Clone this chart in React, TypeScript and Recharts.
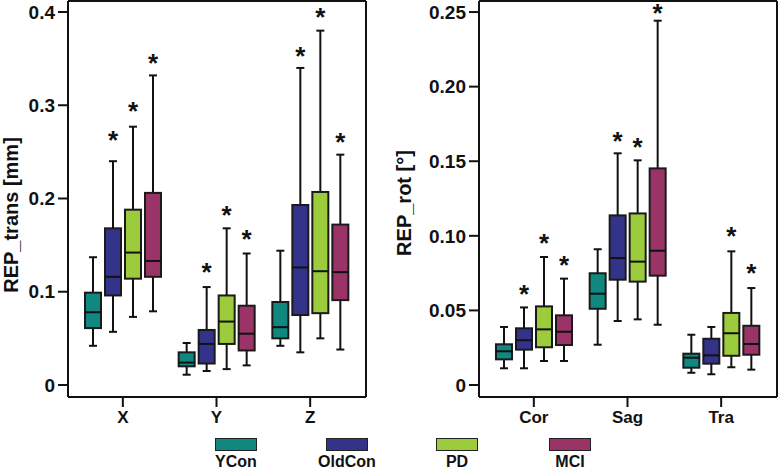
import { ComposedChart, Bar, XAxis, YAxis } from 'recharts';

const GROUPS = ['YCon', 'OldCon', 'PD', 'MCI'];
const COLORS = ['#10877F', '#33338A', '#9CCB3B', '#9B3466'];

// each entry: [min, q1, median, q3, max]
const TRANS_CATS = ['X', 'Y', 'Z'];
const TRANS_YCON = [[0.042, 0.061, 0.078, 0.099, 0.137], [0.011, 0.020, 0.024, 0.035, 0.045], [0.042, 0.050, 0.062, 0.089, 0.144]];
const TRANS_OLDCON = [[0.057, 0.096, 0.116, 0.168, 0.240], [0.015, 0.023, 0.044, 0.059, 0.105], [0.035, 0.075, 0.126, 0.193, 0.340]];
const TRANS_PD = [[0.073, 0.114, 0.142, 0.188, 0.277], [0.017, 0.044, 0.068, 0.096, 0.168], [0.050, 0.077, 0.122, 0.207, 0.380]];
const TRANS_MCI = [[0.079, 0.116, 0.133, 0.206, 0.332], [0.021, 0.037, 0.055, 0.085, 0.141], [0.038, 0.091, 0.121, 0.172, 0.247]];
// asterisk heights per category (YCon, OldCon, PD, MCI), null = no asterisk
const TRANS_STARS = [[null, 0.266, 0.297, 0.348], [null, 0.124, 0.185, 0.159], [null, 0.356, 0.397, 0.264]];
const TRANS_TICKS = [0, 0.1, 0.2, 0.3, 0.4];

const ROT_CATS = ['Cor', 'Sag', 'Tra'];
const ROT_YCON = [[0.0112, 0.0172, 0.0226, 0.0273, 0.0389], [0.027, 0.0511, 0.0612, 0.0749, 0.091], [0.0082, 0.0116, 0.0183, 0.021, 0.0337]];
const ROT_OLDCON = [[0.0112, 0.0237, 0.030, 0.038, 0.052], [0.0429, 0.0706, 0.0851, 0.1137, 0.1553], [0.0072, 0.0143, 0.0199, 0.031, 0.0389]];
const ROT_PD = [[0.0161, 0.0253, 0.0373, 0.0527, 0.0858], [0.044, 0.0693, 0.0827, 0.115, 0.1506], [0.0119, 0.0196, 0.0347, 0.0483, 0.0896]];
const ROT_MCI = [[0.0161, 0.0268, 0.0357, 0.0467, 0.0713], [0.0404, 0.0733, 0.090, 0.1452, 0.2442], [0.0103, 0.0203, 0.0275, 0.0397, 0.065]];
const ROT_STARS = [[null, 0.063, 0.0972, 0.082], [null, 0.1653, 0.1615, 0.2515], [null, null, 0.1015, 0.0771]];
const ROT_TICKS = [0, 0.05, 0.1, 0.15, 0.2, 0.25];

const FONT = '"Liberation Sans", Arial, sans-serif';
const INK = '#111';

function buildRows(cats: string[], sets: number[][][], stars: (number | null)[][]) {
  return cats.map((cat, i) => {
    const row: any = { cat };
    GROUPS.forEach((g, j) => {
      const s = sets[j][i];
      row[g] = [s[0], s[4]];
      row[g + '_box'] = s;
      row[g + '_star'] = stars[i][j];
    });
    return row;
  });
}

const transRows = buildRows(TRANS_CATS, [TRANS_YCON, TRANS_OLDCON, TRANS_PD, TRANS_MCI], TRANS_STARS);
const rotRows = buildRows(ROT_CATS, [ROT_YCON, ROT_OLDCON, ROT_PD, ROT_MCI], ROT_STARS);

// box drawn inside the whisker-range bar; pixel scale taken from the bar itself
function BoxShape(props: any) {
  const { x, y, width, height, payload, group, color } = props;
  const s = payload[group + '_box'];
  const star = payload[group + '_star'];
  const top = Math.min(y, y + height);
  const bottom = Math.max(y, y + height);
  const k = (bottom - top) / (s[4] - s[0]);
  const py = (v: number) => bottom - (v - s[0]) * k;
  const cx = x + width / 2;
  return (
    <g>
      <line x1={cx} x2={cx} y1={py(s[4])} y2={py(s[3])} stroke={INK} strokeWidth={2} />
      <line x1={cx} x2={cx} y1={py(s[1])} y2={py(s[0])} stroke={INK} strokeWidth={2} />
      <line x1={cx - 4} x2={cx + 4} y1={py(s[4])} y2={py(s[4])} stroke={INK} strokeWidth={2} />
      <line x1={cx - 4} x2={cx + 4} y1={py(s[0])} y2={py(s[0])} stroke={INK} strokeWidth={2} />
      <rect x={x + 1} y={py(s[3])} width={width - 2} height={py(s[1]) - py(s[3])} fill={color} stroke="#1a1a1a" strokeWidth={2} />
      <line x1={x + 1} x2={x + width - 1} y1={py(s[2])} y2={py(s[2])} stroke={INK} strokeWidth={2} />
      {star != null && (
        <text x={cx} y={py(star) + 11.7} textAnchor="middle" fontSize={26} fontWeight="bold" fontFamily={FONT} fill={INK}>*</text>
      )}
    </g>
  );
}

const tickStyle = { fontSize: 19, fontWeight: 'bold', fill: INK, fontFamily: FONT };
const axisLine = { stroke: INK, strokeWidth: 2 };

function Panel({ rows, ticks, domain, fmt, label, width, yWidth, labelX, labelShift }: any) {
  return (
    <ComposedChart
      width={width}
      height={470}
      data={rows}
      margin={{ top: 0, right: 1, bottom: 0, left: 0 }}
      barSize={18}
      barGap={2}
    >
      <XAxis
        dataKey="cat"
        height={73}
        padding={{ left: 8, right: 9 }}
        tickSize={10}
        tickMargin={4}
        tickLine={axisLine}
        axisLine={axisLine}
        tick={{ ...tickStyle, fontSize: 17 }}
      />
      <XAxis xAxisId="top" dataKey="cat" orientation="top" height={1} tick={false} tickLine={false} axisLine={axisLine} />
      <YAxis
        type="number"
        width={yWidth}
        domain={domain}
        allowDataOverflow
        ticks={ticks}
        interval={0}
        tickFormatter={fmt}
        tickSize={10}
        tickMargin={3}
        tickLine={axisLine}
        axisLine={axisLine}
        tick={tickStyle}
        label={{
          value: label,
          content: (p: any) => {
            const vb = p.viewBox;
            const lx = vb.x + labelX;
            const ly = vb.y + vb.height / 2 + labelShift;
            return (
              <text
                x={lx}
                y={ly}
                transform={`rotate(-90, ${lx}, ${ly})`}
                textAnchor="middle"
                dominantBaseline="central"
                fontSize={20}
                fontWeight="bold"
                fontFamily={FONT}
                fill={INK}
              >
                {label}
              </text>
            );
          },
        }}
      />
      <YAxis yAxisId="right" orientation="right" width={1} domain={domain} allowDataOverflow tick={false} tickLine={false} axisLine={axisLine} />
      {GROUPS.map((g, j) => (
        <Bar
          key={g}
          dataKey={g}
          isAnimationActive={false}
          shape={(p: any) => <BoxShape {...p} group={g} color={COLORS[j]} />}
        />
      ))}
    </ComposedChart>
  );
}

const LEGEND_CENTERS = [236, 347, 457, 570];

export default function App() {
  return (
    <div style={{ position: 'absolute', left: 0, top: 0, width: 779, height: 470, background: '#fff', fontFamily: FONT }}>
      <div style={{ position: 'absolute', left: 0, top: 0 }}>
        <Panel
          rows={transRows}
          ticks={TRANS_TICKS}
          domain={[-0.0129, 0.4118]}
          fmt={(v: number) => (v === 0 ? '0' : v.toFixed(1))}
          label="REP_trans [mm]"
          width={368}
          yWidth={68}
          labelX={11}
          labelShift={16}
        />
      </div>
      <div style={{ position: 'absolute', left: 390, top: 0 }}>
        <Panel
          rows={rotRows}
          ticks={ROT_TICKS}
          domain={[-0.00804, 0.2574]}
          fmt={(v: number) => (v === 0 ? '0' : v.toFixed(2))}
          label="REP_rot [°]"
          width={389}
          yWidth={89}
          labelX={14}
          labelShift={4}
        />
      </div>
      {GROUPS.map((g, j) => (
        <div
          key={g}
          style={{
            position: 'absolute',
            left: LEGEND_CENTERS[j] - 50,
            top: 438,
            width: 100,
            display: 'flex',
            flexDirection: 'column',
            alignItems: 'center',
          }}
        >
          <div style={{ width: 40, height: 11, background: COLORS[j], border: '1.5px solid #222' }} />
          <div style={{ fontSize: 16, fontWeight: 'bold', color: INK, lineHeight: '18px', marginTop: 2 }}>{g}</div>
        </div>
      ))}
    </div>
  );
}
